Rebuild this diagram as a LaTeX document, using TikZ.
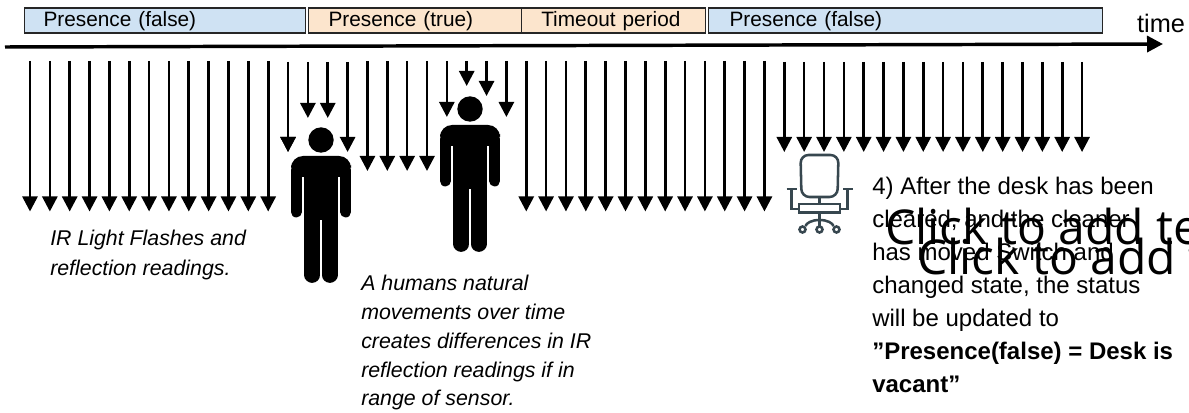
\documentclass[tikz,border=0pt]{standalone}
\usepackage{fontspec}
\setmainfont{Liberation Sans}
\newfontfamily\placeholderfont{Open Sans}
\usetikzlibrary{arrows.meta}
\definecolor{falseblue}{HTML}{CFE2F3}
\definecolor{trueorange}{HTML}{FCE5CD}
\definecolor{chairgrey}{HTML}{37474F}
\tikzset{
  statebox/.style={draw=black!85, line width=0.9pt, anchor=north west, minimum height=18.75pt, text height=11.5pt, text depth=3pt, inner sep=0pt, align=left, font=\fontsize{15.6pt}{18pt}\selectfont},
  flash/.style={-{Triangle[length=11.25pt, width=11.25pt]}, line width=2pt},
  notetext/.style={anchor=north west, inner sep=0pt, align=left},
  addtext/.style={anchor=base west, inner sep=0pt, font=\placeholderfont\fontsize{36pt}{36pt}\selectfont},
  human/.pic={
    \fill (0, 0) circle (12.7);
    \fill[rounded corners=9pt] (-30, 16) -- (30, 16) -- (30, 37) -- (-30, 37) -- cycle;
    \fill (-17, 30) rectangle (17, 80);
    \draw[line width=8.2pt, line cap=round] (-24.7, 30) -- (-24.7, 72);
    \draw[line width=8.2pt, line cap=round] (24.7, 30) -- (24.7, 72);
    \draw[line width=11.8pt, line cap=round] (-8.7, 70) -- (-8.7, 135);
    \draw[line width=11.8pt, line cap=round] (8.7, 70) -- (8.7, 135);
  },
  deskchair/.pic={
    \draw[rounded corners=6pt] (-19, 0) -- (19, 0) -- (18, 42) -- (-18, 42) -- cycle;
    \draw (-33, 34) -- (-23, 34) (-28, 34) -- (-28, 54) -- (-20, 54);
    \draw (33, 34) -- (23, 34) (28, 34) -- (28, 54) -- (20, 54);
    \draw (-20.5, 49) rectangle (20.5, 57.5);
    \draw (0, 42) -- (0, 49) (0, 57.5) -- (0, 71);
    \draw (0, 65) .. controls (-8, 65) and (-13, 68) .. (-14, 71);
    \draw (0, 65) .. controls (8, 65) and (13, 68) .. (14, 71);
    \draw (-17, 74.5) circle (3) (0, 74.5) circle (3) (17, 74.5) circle (3);
  }
}
\begin{document}
\begin{tikzpicture}[x=0.75pt, y=-0.75pt]
  \useasboundingbox (0, 0) rectangle (1189, 413);
  % state boxes
  \node[statebox, fill=falseblue, minimum width=210.75pt, text width=181.5pt] (absent1) at (23.5, 7.5) {Presence (false)};
  \node[statebox, fill=trueorange, minimum width=159.5pt, text width=129.5pt] (present) at (308, 7.5) {Presence (true)};
  \node[statebox, fill=trueorange, minimum width=138.25pt, text width=108.25pt] (timeout) at (520.7, 7.5) {Timeout period};
  \node[statebox, fill=falseblue, minimum width=295.5pt, text width=264pt] (absent2) at (708, 7.5) {Presence (false)};
  % time axis
  \coordinate (tstart) at (5, 47);
  \coordinate (tend) at (1163, 44);
  \draw[-{Triangle[length=12pt, width=12pt]}, line width=2.6pt] (tstart) -- (tend);
  \node[inner sep=0pt, font=\fontsize{19pt}{19pt}\selectfont] (timelabel) at (1161, 23.5) {time};
  % IR flashes, index on the 19.85 grid and y of the tip
  \foreach \i/\ystart/\yend in {0/61/211.5, 1/61/211.5, 2/61/211.5, 3/61/211.5, 4/61/211.5, 5/61/211.5, 6/61/211.5,
      7/61/211.5, 8/61/211.5, 9/61/211.5, 10/61/211.5, 11/61/211.5, 12/61/211.5,
      13/62/152, 13.47/62/134, 14/62/118, 15/62/118, 16/62/152,
      17/61/171, 18/61/171, 19/61/171, 20/61/171,
      21/61/117, 22/61/86, 23/61/96, 24/61/117,
      25/61/211.5, 26/61/211.5, 27/61/211.5, 28/61/211.5, 29/61/211.5, 30/61/211.5, 31/61/211.5,
      32/61/211.5, 33/61/211.5, 34/61/211.5, 35/61/211.5, 36/61/211.5, 37/61/211.5,
      38/62/152, 39/62/152, 40/62/152, 41/62/152, 42/62/152, 43/62/152, 44/62/152, 45/62/152,
      46/62/152, 47/62/152, 48/62/152, 49/62/152, 50/62/152, 51/62/152, 52/62/152, 53/62/152} {
    \coordinate (f\i) at ({30 + 19.85*\i}, \ystart);
    \coordinate (r\i) at ({30 + 19.85*\i}, \yend);
    \draw[flash] (f\i) -- (r\i);
  }
  % people and chair
  \pic at (321, 140) {human};
  \pic at (470, 109) {human};
  \pic[draw=chairgrey, line width=1.9pt] at (819.5, 155) {deskchair};
  % notes
  \node[notetext, font=\itshape\fontsize{16pt}{22.5pt}\selectfont] (irnote) at (50, 230) {IR Light Flashes and\\reflection readings.};
  \node[notetext, font=\itshape\fontsize{16pt}{21.6pt}\selectfont] (movenote) at (361, 275) {A humans natural\\movements over time\\creates differences in IR\\reflection readings if in\\range of sensor.};
  \node[notetext, font=\fontsize{18pt}{24.75pt}\selectfont] (desknote) at (872, 177) {4) After the desk has been\\cleared, and the cleaner\\has moved Switch and\\changed state, the status\\will be updated to\\\textbf{”Presence(false) = Desk is}\\\textbf{vacant”}};
  \node[addtext] (addtext1) at (885, 245) {Click to add text};
  \node[addtext] (addtext2) at (917, 275) {Click to add text};
\end{tikzpicture}
\end{document}
